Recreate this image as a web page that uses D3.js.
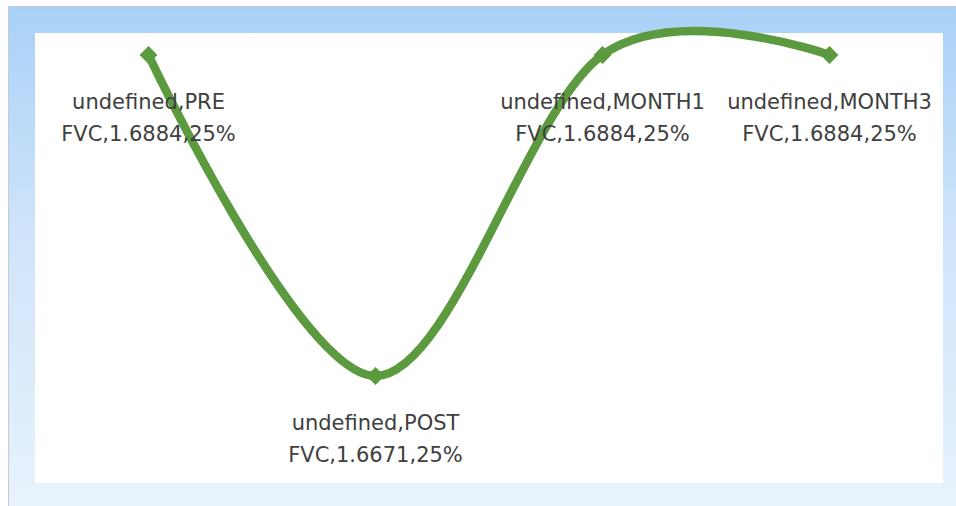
<!DOCTYPE html>
<html>
<head>
<meta charset="utf-8">
<script src="https://cdn.jsdelivr.net/npm/d3@7"></script>
<style>
  body { margin: 0; background: #fff; }
  svg { display: block; }
</style>
</head>
<body>
<div class="chart_view"></div>
<script>
// chart data
var categories = ["PRE", "POST", "MONTH1", "MONTH3"];
var seriesNames = ["undefined", "undefined", "undefined", "undefined"];
var measure = ["FVC", "FVC", "FVC", "FVC"];
var values = [1.6884, 1.6671, 1.6884, 1.6884];
var shares = ["25%", "25%", "25%", "25%"];

var width = 956,
  height = 506;
var plot = { left: 35, top: 33, right: 943, bottom: 483 };

var svg = d3
  .select(".chart_view")
  .append("svg")
  .attr("width", width)
  .attr("height", height);

var defs = svg.append("defs");
var grad = defs
  .append("linearGradient")
  .attr("id", "bg")
  .attr("x1", 0)
  .attr("y1", 0)
  .attr("x2", 0)
  .attr("y2", 1);
grad.append("stop").attr("offset", "0%").attr("stop-color", "#a9d1f7");
grad.append("stop").attr("offset", "45%").attr("stop-color", "#cfe4fa");
grad.append("stop").attr("offset", "100%").attr("stop-color", "#e9f3fd");

// outer frame
svg
  .append("rect")
  .attr("x", 8.5)
  .attr("y", 6.5)
  .attr("width", width - 8)
  .attr("height", height)
  .style("fill", "url(#bg)")
  .style("stroke", "#c4cbd2")
  .style("stroke-width", 1);

// plot area
svg
  .append("rect")
  .attr("x", plot.left)
  .attr("y", plot.top)
  .attr("width", plot.right - plot.left)
  .attr("height", plot.bottom - plot.top)
  .style("fill", "#ffffff");

var x = d3
  .scalePoint()
  .domain(categories)
  .range([plot.left, plot.right])
  .padding(0.5);

var y = d3
  .scaleLinear()
  .domain([d3.min(values), d3.max(values)])
  .range([376, 55]);

var data = categories.map(function (c, i) {
  return {
    cat: c,
    name: seriesNames[i],
    measure: measure[i],
    value: values[i],
    share: shares[i],
  };
});

var line = d3
  .line()
  .x(function (d) {
    return x(d.cat);
  })
  .y(function (d) {
    return y(d.value);
  })
  .curve(d3.curveCardinal.tension(0));

svg
  .append("path")
  .datum(data)
  .attr("d", line)
  .style("fill", "none")
  .style("stroke", "#5b9a3e")
  .style("stroke-width", 8.5)
  .style("stroke-linejoin", "round");

// diamonds: rotated squares
svg
  .selectAll(".marker")
  .data(data)
  .enter()
  .append("path")
  .attr("class", "marker")
  .attr("d", d3.symbol().type(d3.symbolSquare).size(160))
  .attr("transform", function (d) {
    return "translate(" + x(d.cat) + "," + y(d.value) + ") rotate(45)";
  })
  .style("fill", "#5b9a3e");

var labels = svg
  .selectAll(".label")
  .data(data)
  .enter()
  .append("text")
  .attr("class", "label")
  .attr("text-anchor", "middle")
  .style("font-family", "'DejaVu Sans', sans-serif")
  .style("font-size", "21px")
  .style("fill", "#404040")
  .attr("transform", function (d) {
    return "translate(" + x(d.cat) + "," + (y(d.value) + 54) + ")";
  });

labels
  .append("tspan")
  .attr("x", 0)
  .attr("y", 0)
  .text(function (d) {
    return d.name + "," + d.cat;
  });

labels
  .append("tspan")
  .attr("x", 0)
  .attr("y", 32)
  .text(function (d) {
    return d.measure + "," + d.value.toFixed(4) + "," + d.share;
  });
</script>
</body>
</html>
